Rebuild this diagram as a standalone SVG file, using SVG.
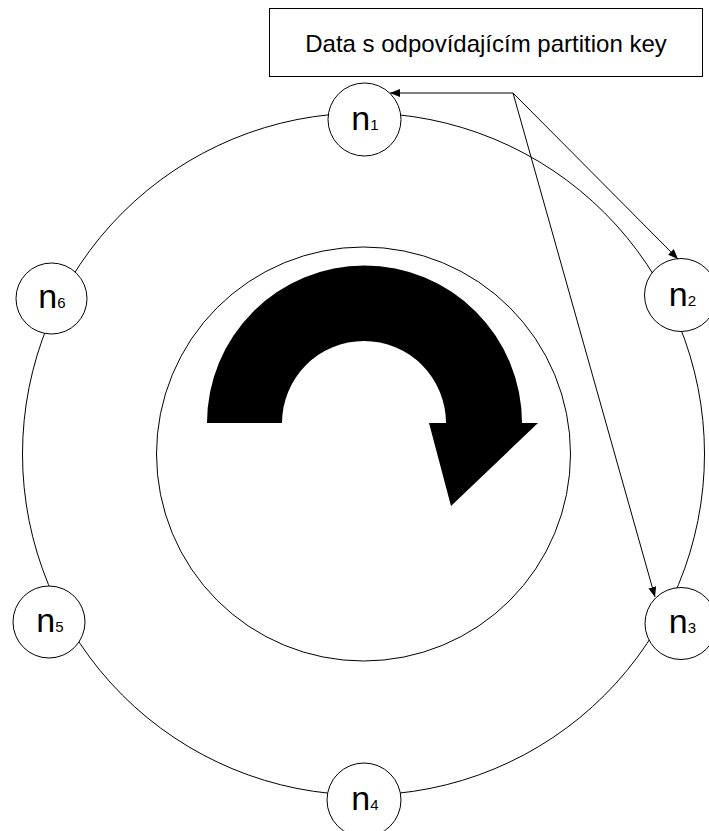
<svg xmlns="http://www.w3.org/2000/svg" width="709" height="831" viewBox="0 0 709 831">
  <defs>
    <style>
      .ring { fill: none; stroke: #000; stroke-width: 1; }
      .node circle { fill: #fff; stroke: #000; stroke-width: 1; }
      .lbl { font-family: "Liberation Sans", Arial, sans-serif; fill: #000; }
      .big { font-size: 34px; }
      .sub { font-size: 15px; }
      .conn { fill: none; stroke: #000; stroke-width: 1; }
    </style>
    <marker id="arr" viewBox="0 0 10 8" refX="10" refY="4" markerWidth="10" markerHeight="8" markerUnits="userSpaceOnUse" orient="auto">
      <path d="M0,0 L10,4 L0,8 Z" fill="#000"/>
    </marker>
  </defs>
  <rect width="709" height="831" fill="#fff"/>

  <g id="ring">
    <circle class="ring" cx="363.5" cy="454" r="341"/>
  </g>
  <g id="inner">
    <circle class="ring" cx="363.5" cy="454" r="207"/>
  </g>
  <g id="rotation-arrow">
    <path d="M207,423 A157.5,157.5 0 0 1 522,423 L538,423 L451,506 L429,423 L446,423 A82,82 0 0 0 282,423 Z" fill="#000"/>
  </g>

  <g id="n1" class="node">
    <circle cx="364.5" cy="119.5" r="36.5"/>
    <text class="lbl" x="365" y="129.5" text-anchor="middle"><tspan class="big">n</tspan><tspan class="sub">1</tspan></text>
  </g>
  <g id="n2" class="node">
    <circle cx="681" cy="295" r="36.5"/>
    <text class="lbl" x="682.5" y="306" text-anchor="middle"><tspan class="big">n</tspan><tspan class="sub">2</tspan></text>
  </g>
  <g id="n3" class="node">
    <circle cx="681" cy="623.5" r="36"/>
    <text class="lbl" x="682.5" y="633" text-anchor="middle"><tspan class="big">n</tspan><tspan class="sub">3</tspan></text>
  </g>
  <g id="n4" class="node">
    <circle cx="364" cy="800" r="37"/>
    <text class="lbl" x="365" y="810" text-anchor="middle"><tspan class="big">n</tspan><tspan class="sub">4</tspan></text>
  </g>
  <g id="n5" class="node">
    <circle cx="49" cy="622" r="36"/>
    <text class="lbl" x="50" y="632" text-anchor="middle"><tspan class="big">n</tspan><tspan class="sub">5</tspan></text>
  </g>
  <g id="n6" class="node">
    <circle cx="51.5" cy="298.5" r="35.5"/>
    <text class="lbl" x="52" y="308" text-anchor="middle"><tspan class="big">n</tspan><tspan class="sub">6</tspan></text>
  </g>

  <g id="data-box">
    <rect x="269.5" y="8.5" width="433" height="68" fill="#fff" stroke="#000" stroke-width="1"/>
    <text class="lbl" x="486" y="52" font-size="24" text-anchor="middle">Data s odpovídajícím partition key</text>
  </g>

  <g id="connectors">
    <path class="conn" d="M513,93 L390,93" marker-end="url(#arr)"/>
    <path class="conn" d="M513,93 L678,259" marker-end="url(#arr)"/>
    <path class="conn" d="M513,93 L655,597" marker-end="url(#arr)"/>
  </g>
</svg>
